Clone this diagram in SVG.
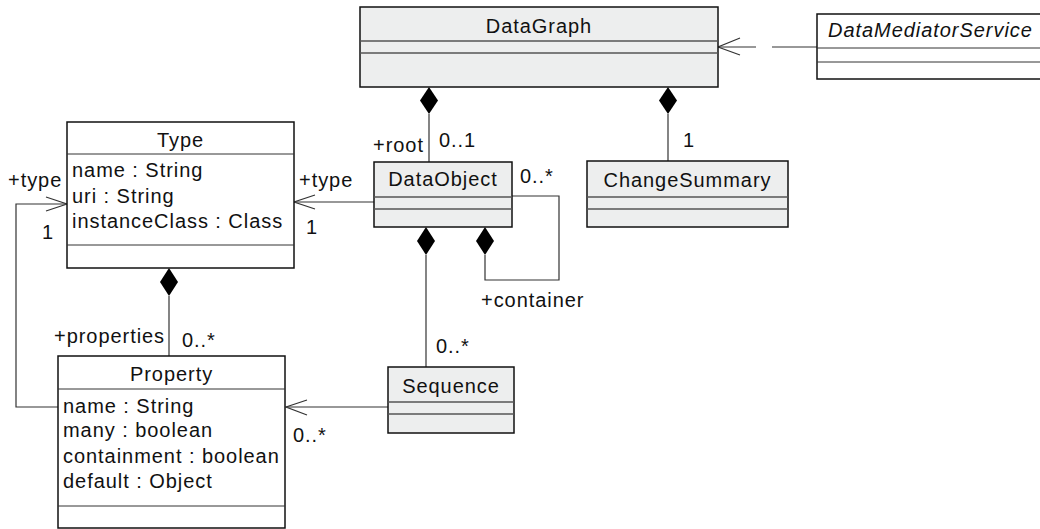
<svg xmlns="http://www.w3.org/2000/svg" width="1040" height="529" viewBox="0 0 1040 529">
<style>
text{font-family:"Liberation Sans",Arial,sans-serif;font-size:20px;fill:#111;letter-spacing:0.95px}
.t{text-anchor:middle}
.box{stroke:#111;stroke-width:1.5}
.g{fill:#edeeee}
.w{fill:#fff}
.sep{stroke:#555;stroke-width:1.5}
.sepw{stroke:#333;stroke-width:1}
.c{fill:none;stroke:#333;stroke-width:1.2}
.d{fill:#000;stroke:none}
</style>
<rect width="1040" height="529" fill="#fff"/>
<g id="connectors">
<line class="c" x1="817" y1="47" x2="772" y2="47"/>
<line class="c" x1="756" y1="47" x2="718" y2="47"/>
<polyline class="c" points="740,38 718,47 740,55"/>
<line class="c" x1="429" y1="114" x2="429" y2="162"/>
<path class="d" d="M429,87 L438,100.5 L429,114 L420,100.5 Z"/>
<line class="c" x1="668" y1="114" x2="668" y2="161"/>
<path class="d" d="M668,87 L677,100.5 L668,114 L659,100.5 Z"/>
<line class="c" x1="374" y1="202" x2="294" y2="202"/>
<polyline class="c" points="315,195 294,202 315,209"/>
<polyline class="c" points="512,196 559,196 559,280 485,280 485,255"/>
<path class="d" d="M485,227 L494,241 L485,255 L476,241 Z"/>
<line class="c" x1="426" y1="255" x2="426" y2="367"/>
<path class="d" d="M426,227 L435,241 L426,255 L417,241 Z"/>
<line class="c" x1="388" y1="407" x2="286" y2="407"/>
<polyline class="c" points="307,400 286,407 307,415"/>
<line class="c" x1="169" y1="296" x2="169" y2="356"/>
<path class="d" d="M169,268 L178,282 L169,296 L160,282 Z"/>
<polyline class="c" points="58,407 16,407 16,204 67,204"/>
<polyline class="c" points="46,197 67,204 46,211"/>
</g>
<g id="labels">
<text x="373" y="152">+root</text>
<text x="439" y="147">0..1</text>
<text x="683" y="147">1</text>
<text x="299" y="187">+type</text>
<text x="306" y="234">1</text>
<text x="520" y="183">0..*</text>
<text x="481" y="307">+container</text>
<text x="436" y="353">0..*</text>
<text x="293" y="442">0..*</text>
<text x="54" y="343">+properties</text>
<text x="182" y="347">0..*</text>
<text x="8" y="187">+type</text>
<text x="42" y="239">1</text>
</g>
<g id="DataGraph">
<rect class="box g" x="360" y="7" width="358" height="80"/>
<line class="sep" x1="360" y1="41" x2="718" y2="41"/>
<line class="sep" x1="360" y1="53" x2="718" y2="53"/>
<text class="t" x="539" y="33">DataGraph</text>
</g>
<g id="DataMediatorService">
<rect class="box w" x="817" y="14" width="240" height="65"/>
<line class="sepw" x1="817" y1="48" x2="1040" y2="48"/>
<line class="sepw" x1="817" y1="62" x2="1040" y2="62"/>
<text x="828" y="37" font-style="italic">DataMediatorService</text>
</g>
<g id="Type">
<rect class="box w" x="67" y="122" width="227" height="146"/>
<line class="sepw" x1="67" y1="154" x2="294" y2="154"/>
<line class="sepw" x1="67" y1="245" x2="294" y2="245"/>
<text class="t" x="180.5" y="147">Type</text>
<text x="72" y="177">name : String</text>
<text x="72" y="203">uri : String</text>
<text x="72" y="228">instanceClass : Class</text>
</g>
<g id="DataObject">
<rect class="box g" x="374" y="162" width="138" height="65"/>
<line class="sep" x1="374" y1="197" x2="512" y2="197"/>
<line class="sep" x1="374" y1="209" x2="512" y2="209"/>
<text class="t" x="443" y="186">DataObject</text>
</g>
<g id="ChangeSummary">
<rect class="box g" x="587" y="161" width="201" height="66"/>
<line class="sep" x1="587" y1="197" x2="788" y2="197"/>
<line class="sep" x1="587" y1="209" x2="788" y2="209"/>
<text class="t" x="687.5" y="187">ChangeSummary</text>
</g>
<g id="Sequence">
<rect class="box g" x="388" y="367" width="126" height="66"/>
<line class="sep" x1="388" y1="402" x2="514" y2="402"/>
<line class="sep" x1="388" y1="414" x2="514" y2="414"/>
<text class="t" x="451" y="393">Sequence</text>
</g>
<g id="Property">
<rect class="box w" x="58" y="356" width="227" height="172"/>
<line class="sepw" x1="58" y1="389" x2="285" y2="389"/>
<line class="sepw" x1="58" y1="506" x2="285" y2="506"/>
<text class="t" x="171.5" y="381">Property</text>
<text x="63" y="413">name : String</text>
<text x="63" y="437">many : boolean</text>
<text x="63" y="463">containment : boolean</text>
<text x="63" y="488">default : Object</text>
</g>
</svg>
